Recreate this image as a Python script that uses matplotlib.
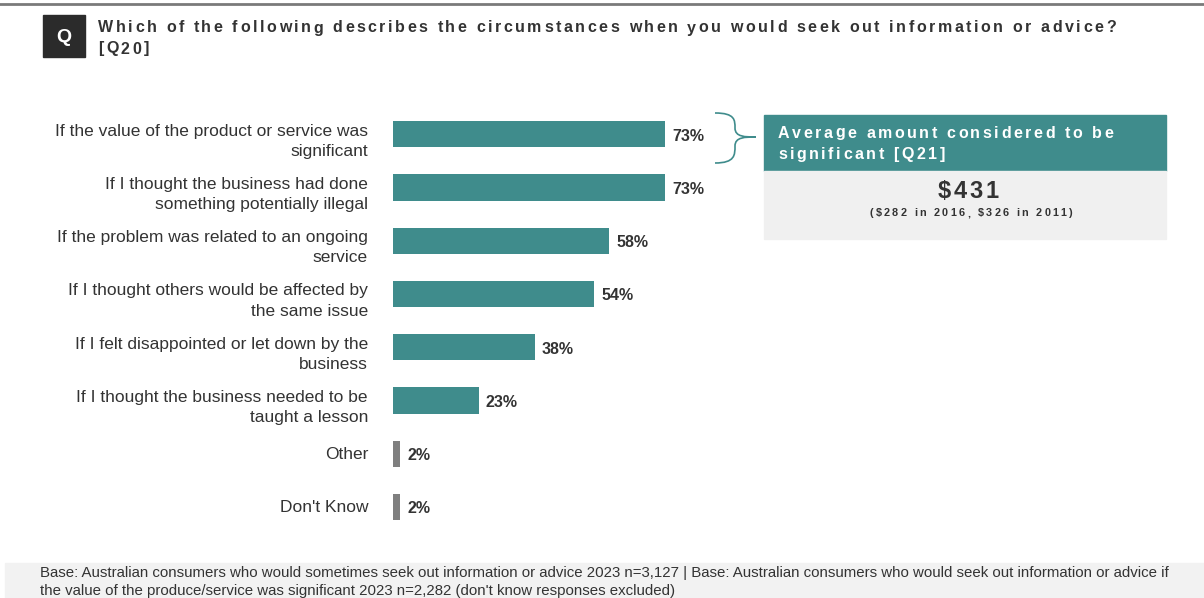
import matplotlib.pyplot as plt
from matplotlib.patches import Rectangle, PathPatch
from matplotlib.path import Path

# Q20 answers
circumstances = [
    'If the value of the product or service was\nsignificant',
    'If I thought the business had done\nsomething potentially illegal',
    'If the problem was related to an ongoing\nservice',
    'If I thought others would be affected by\nthe same issue',
    'If I felt disappointed or let down by the\nbusiness',
    'If I thought the business needed to be\ntaught a lesson',
    'Other',
    "Don't Know",
]
percent = [73, 73, 58, 54, 38, 23, 2, 2]

# Q21 average amount
avg_amount = '$431'
avg_history = '($282 in 2016, $326 in 2011)'

teal = '#3f8c8c'
grey_bar = '#7f7f7f'
dark = '#333333'

plt.rcParams['font.family'] = ['Liberation Sans', 'DejaVu Sans']

W, H = 1204, 598
fig = plt.figure(figsize=(W / 100, H / 100), dpi=100)


def px(x, y):
    # pixel position (from top-left) -> figure fraction
    return x / W, 1 - y / H


def spaced(x, y, s, size, spacing, color=dark, weight='bold', ha='left'):
    # draw text one character at a time with extra tracking
    renderer = fig.canvas.get_renderer()
    probe = fig.text(0, 0, 'x', fontsize=size, weight=weight)
    widths = []
    for ch in s:
        probe.set_text(ch if ch != ' ' else 'a a')
        w = probe.get_window_extent(renderer).width
        if ch == ' ':
            probe.set_text('aa')
            w -= probe.get_window_extent(renderer).width
        widths.append(w)
    probe.remove()
    total = sum(widths) + spacing * (len(s) - 1)
    cx = x - total / 2 if ha == 'center' else x
    for ch, w in zip(s, widths):
        fx, fy = px(cx, y)
        fig.text(fx, fy, ch, fontsize=size, weight=weight, color=color, va='center', ha='left')
        cx += w + spacing


# top rule
fig.add_artist(plt.Line2D([0, 1], [1 - 4 / H, 1 - 4 / H], color='#7a7a7a', lw=2))

# question badge and title
fig.add_artist(Rectangle(px(43, 57), 42 / W, 42 / H, transform=fig.transFigure, color='#2b2b2b'))
fig.text(*px(64, 37), 'Q', color='white', fontsize=14, weight='bold', ha='center', va='center')
spaced(98, 28, 'Which of the following describes the circumstances when you would seek out information or advice?', 11.5, 2.55)
spaced(98, 49, '[Q20]', 11.5, 2.55)

# bar chart
ax = fig.add_axes([393 / W, 1 - 533.6 / H, 373 / W, 426 / H])
ypos = list(range(len(percent)))
colors = [teal] * 6 + [grey_bar] * 2
ax.barh(ypos, percent, height=0.49, color=colors)
ax.set_xlim(0, 100)
ax.set_ylim(len(percent) - 0.5, -0.5)
ax.axis('off')
for y, v, lab in zip(ypos, percent, circumstances):
    ax.annotate(f'{v}%', (v, y), xytext=(7, -2), textcoords='offset pixels',
                fontsize=11.5, weight='bold', color=dark, va='center')
    shift = -7 if '\n' in lab else -1
    ax.annotate(lab, (0, y), xytext=(-25, shift), textcoords='offset pixels',
                fontsize=12.5, color=dark, ha='right', va='center', linespacing=1.45)

# brace linking first bar to the callout
verts = [(715, 113), (735, 113), (735, 120), (735, 128),
         (735, 137), (745, 137), (756, 137),
         (745, 137), (735, 137), (735, 146),
         (735, 155), (735, 163), (715, 163)]
codes = [Path.MOVETO] + [Path.CURVE4] * 12
brace = Path([px(x, y) for x, y in verts], codes)
fig.add_artist(PathPatch(brace, transform=fig.transFigure, fill=False, edgecolor=teal, lw=1.2))

# callout box
fig.add_artist(Rectangle(px(764, 171), 402 / W, 56 / H, transform=fig.transFigure, color=teal))
fig.add_artist(Rectangle(px(764, 239), 402 / W, 68 / H, transform=fig.transFigure, color='#f0f0f0'))
spaced(778, 133, 'Average amount considered to be', 11.5, 2.55, color='white')
spaced(778, 155, 'significant [Q21]', 11.5, 2.55, color='white')
spaced(968, 191, avg_amount, 17, 2.6, ha='center')
spaced(971, 213, avg_history, 7.8, 2.3, ha='center')

# base note
fig.add_artist(Rectangle(px(5, 598), (W - 5) / W, 35 / H, transform=fig.transFigure, color='#f2f2f2'))
fig.text(*px(40, 582), 'Base: Australian consumers who would sometimes seek out information or advice 2023 n=3,127 | '
         'Base: Australian consumers who would seek out information or advice if\n'
         'the value of the produce/service was significant 2023 n=2,282 (don\'t know responses excluded)',
         fontsize=10.8, color=dark, va='center', linespacing=1.35)

fig.savefig('out.png', dpi=100)
